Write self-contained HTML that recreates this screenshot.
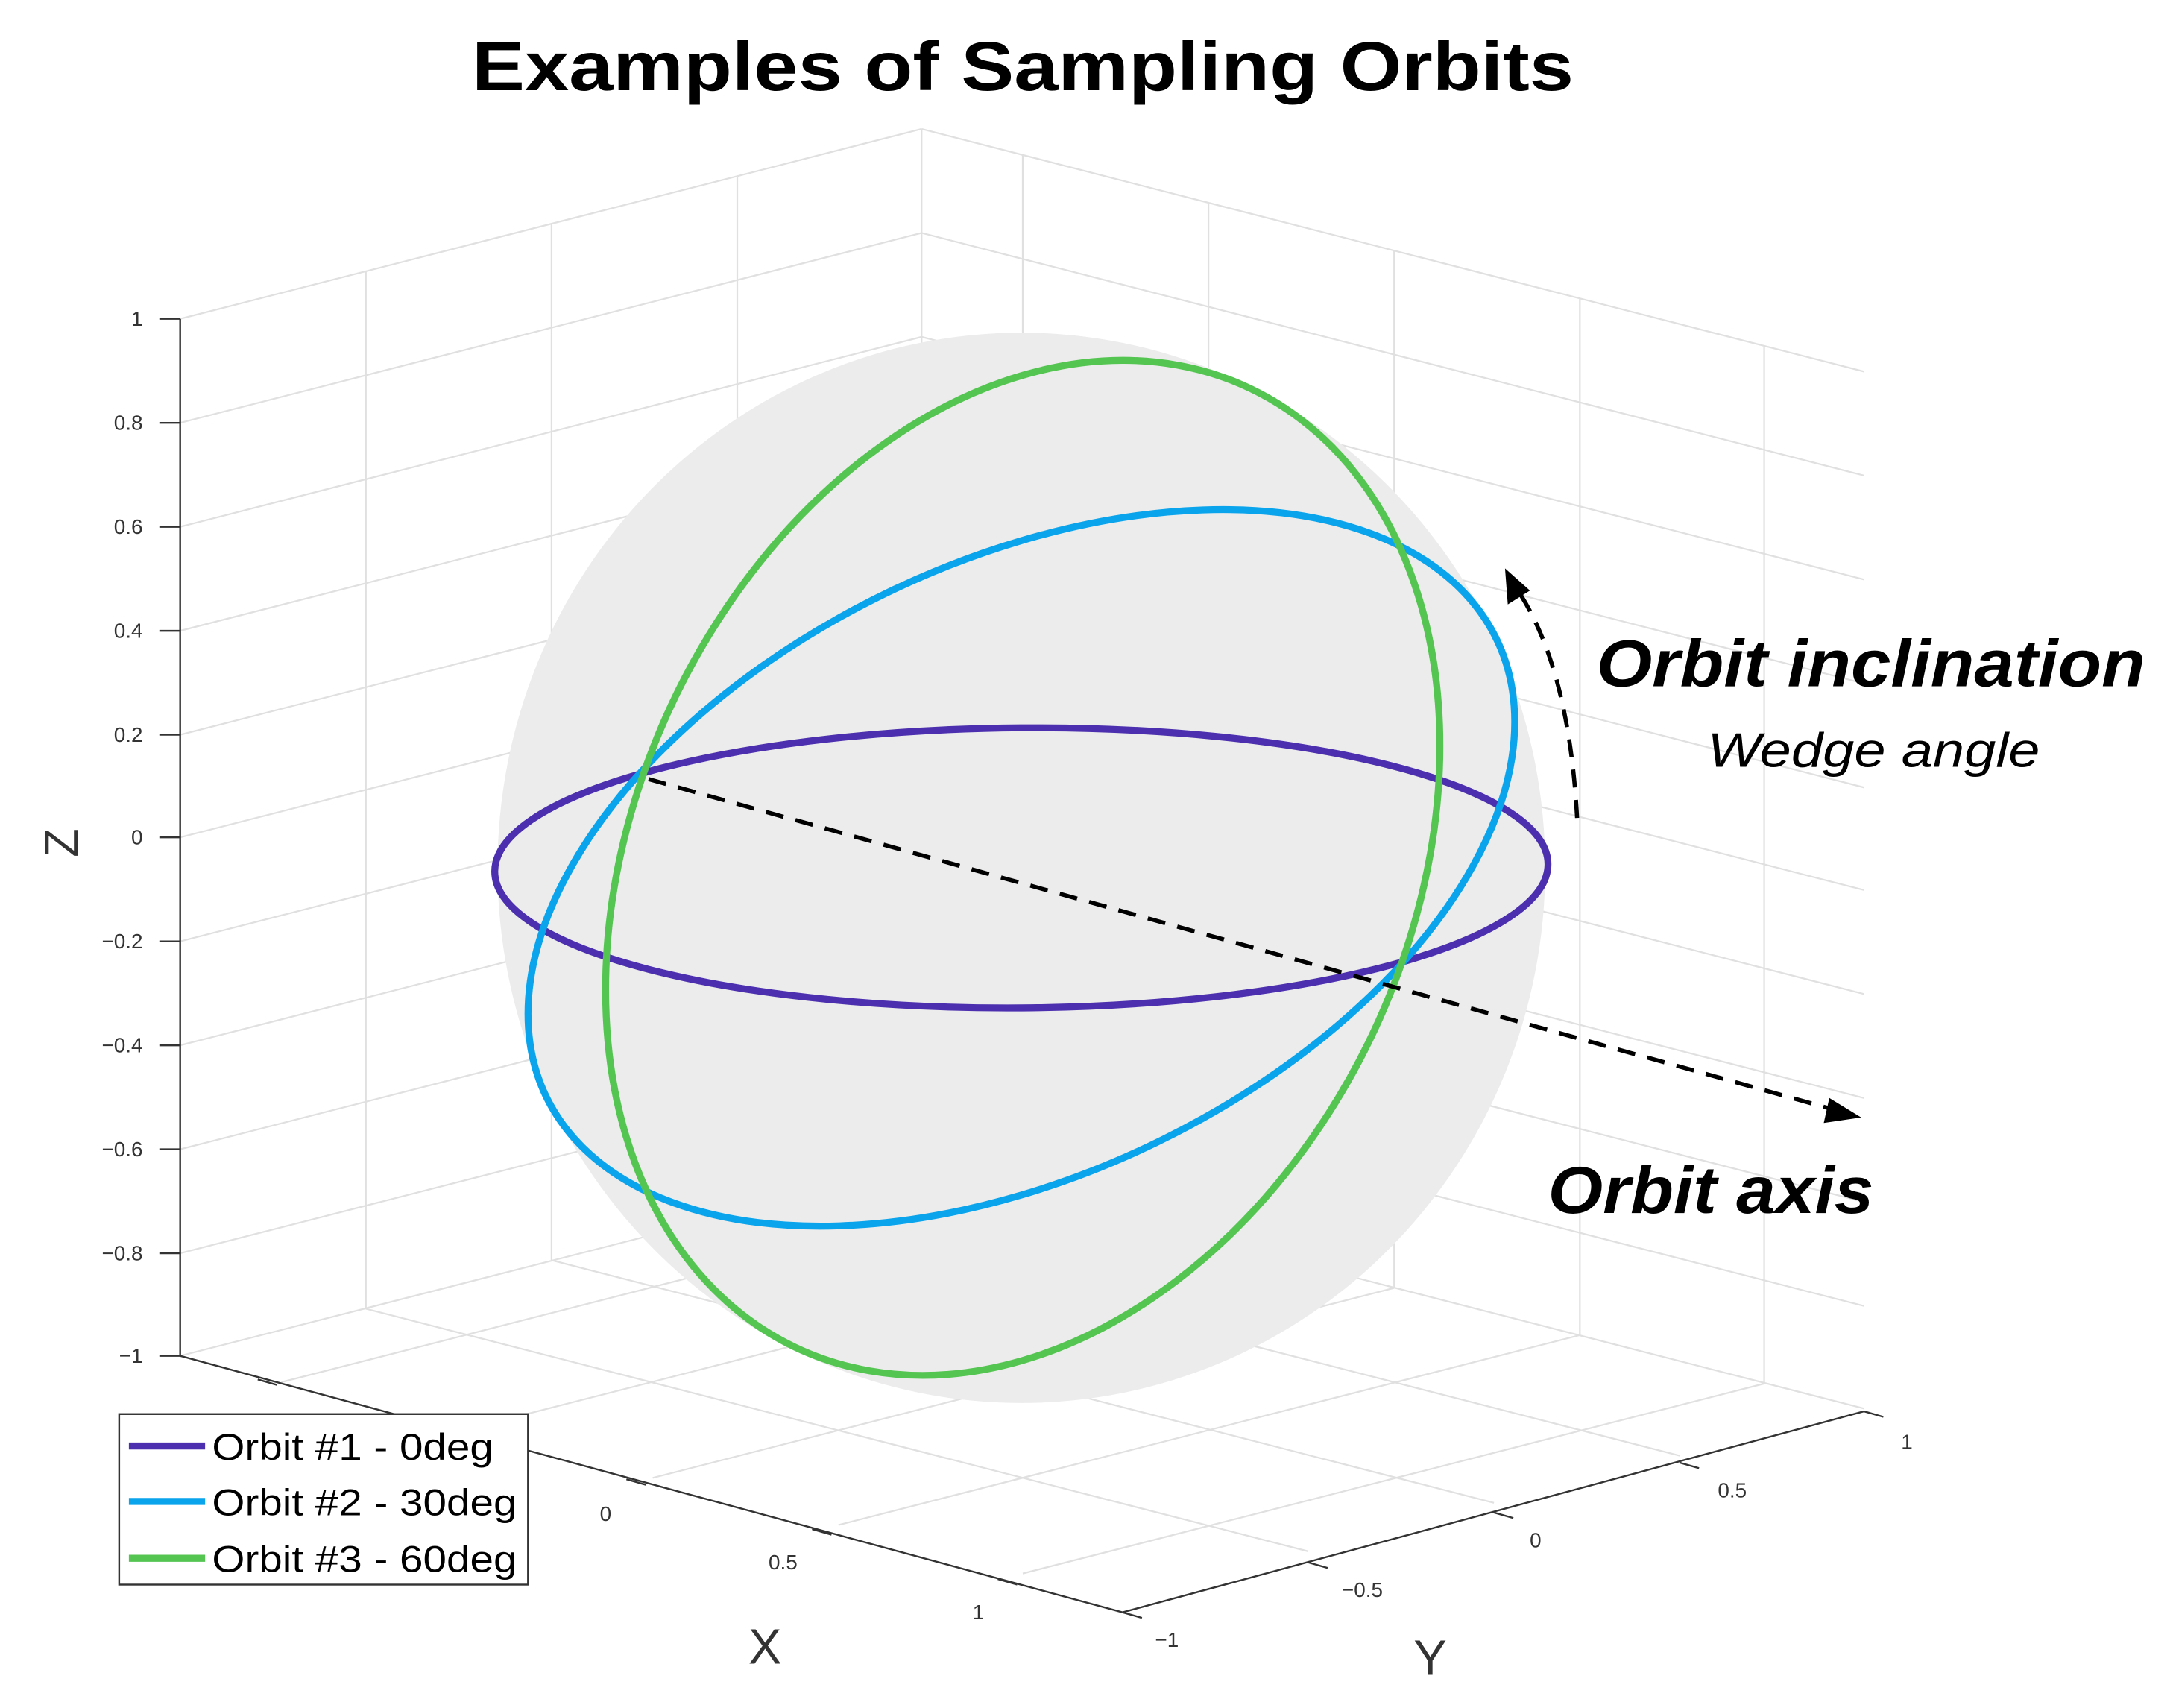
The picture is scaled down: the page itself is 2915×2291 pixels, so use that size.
<!DOCTYPE html>
<html><head><meta charset="utf-8"><style>html,body{margin:0;padding:0;background:#fff}svg{display:block}</style></head>
<body>
<svg width="2915" height="2291" viewBox="0 0 1568 1232" preserveAspectRatio="none" xmlns="http://www.w3.org/2000/svg" font-family="Liberation Sans, sans-serif">
<rect width="1568" height="1232" fill="#fff"/>
<text x="738" y="65" font-size="50" font-weight="bold" text-anchor="middle" textLength="795" lengthAdjust="spacingAndGlyphs">Examples of Sampling Orbits</text>
<g stroke="#e0e0e0" stroke-width="1.2" fill="none">
<line x1="130" y1="230" x2="665" y2="93"/><line x1="130" y1="305" x2="665" y2="168"/><line x1="130" y1="380" x2="665" y2="243"/><line x1="130" y1="455" x2="665" y2="318"/><line x1="130" y1="530" x2="665" y2="393"/><line x1="130" y1="604" x2="665" y2="467"/><line x1="130" y1="679" x2="665" y2="542"/><line x1="130" y1="754" x2="665" y2="617"/><line x1="130" y1="829" x2="665" y2="692"/><line x1="130" y1="904" x2="665" y2="767"/>
<line x1="264" y1="196" x2="264" y2="944"/><line x1="398" y1="161" x2="398" y2="909"/><line x1="532" y1="127" x2="532" y2="875"/><line x1="665" y1="93" x2="665" y2="841"/>
<line x1="665" y1="93" x2="1345" y2="268"/><line x1="665" y1="168" x2="1345" y2="343"/><line x1="665" y1="243" x2="1345" y2="418"/><line x1="665" y1="318" x2="1345" y2="493"/><line x1="665" y1="393" x2="1345" y2="568"/><line x1="665" y1="467" x2="1345" y2="642"/><line x1="665" y1="542" x2="1345" y2="717"/><line x1="665" y1="617" x2="1345" y2="792"/><line x1="665" y1="692" x2="1345" y2="867"/><line x1="665" y1="767" x2="1345" y2="942"/><line x1="665" y1="841" x2="1345" y2="1016"/>
<line x1="738" y1="112" x2="738" y2="860"/><line x1="872" y1="146" x2="872" y2="894"/><line x1="1006" y1="181" x2="1006" y2="929"/><line x1="1140" y1="215" x2="1140" y2="963"/><line x1="1273" y1="250" x2="1273" y2="998"/>
<line x1="665" y1="841" x2="130" y2="978"/>
<line x1="738" y1="860" x2="203" y2="997"/><line x1="872" y1="894" x2="337" y2="1031"/><line x1="1006" y1="929" x2="471" y2="1066"/><line x1="1140" y1="963" x2="605" y2="1100"/><line x1="1273" y1="998" x2="738" y2="1135"/>
<line x1="264" y1="944" x2="944" y2="1119"/><line x1="398" y1="909" x2="1078" y2="1084"/><line x1="532" y1="875" x2="1212" y2="1050"/>
</g>
<g stroke="#333" stroke-width="1.3" fill="none">
<line x1="130" y1="230" x2="130" y2="978"/>
<line x1="130" y1="978" x2="810" y2="1163"/>
<line x1="810" y1="1163" x2="1345" y2="1018"/>
<line x1="115" y1="230" x2="130" y2="230"/><line x1="115" y1="305" x2="130" y2="305"/><line x1="115" y1="380" x2="130" y2="380"/><line x1="115" y1="455" x2="130" y2="455"/><line x1="115" y1="530" x2="130" y2="530"/><line x1="115" y1="604" x2="130" y2="604"/><line x1="115" y1="679" x2="130" y2="679"/><line x1="115" y1="754" x2="130" y2="754"/><line x1="115" y1="829" x2="130" y2="829"/><line x1="115" y1="904" x2="130" y2="904"/><line x1="115" y1="978" x2="130" y2="978"/>
<line x1="452" y1="1067" x2="466" y2="1071"/><line x1="586" y1="1103" x2="600" y2="1107"/><line x1="720" y1="1139" x2="734" y2="1143"/><line x1="186" y1="995" x2="200" y2="999"/><line x1="320" y1="1031" x2="334" y2="1035"/>
<line x1="944" y1="1127" x2="958" y2="1131"/><line x1="1078" y1="1091" x2="1092" y2="1095"/><line x1="1212" y1="1055" x2="1226" y2="1059"/><line x1="1345" y1="1018" x2="1359" y2="1022"/><line x1="810" y1="1163" x2="824" y2="1167"/>
</g>
<g font-size="15" fill="#333" text-anchor="end">
<text x="103" y="235">1</text><text x="103" y="310">0.8</text><text x="103" y="385">0.6</text><text x="103" y="460">0.4</text><text x="103" y="535">0.2</text><text x="103" y="609">0</text><text x="103" y="684">−0.2</text><text x="103" y="759">−0.4</text><text x="103" y="834">−0.6</text><text x="103" y="909">−0.8</text><text x="103" y="983">−1</text>
</g>
<g font-size="15" fill="#333" text-anchor="middle">
<text x="437" y="1097">0</text><text x="565" y="1132">0.5</text><text x="706" y="1168">1</text>
<text x="842" y="1188">−1</text><text x="983" y="1152">−0.5</text><text x="1108" y="1116">0</text><text x="1250" y="1080">0.5</text><text x="1376" y="1045">1</text>
</g>
<text x="552" y="1200" font-size="36" fill="#333" text-anchor="middle">X</text>
<text x="1032" y="1208" font-size="36" fill="#333" text-anchor="middle">Y</text>
<text transform="translate(56,608) rotate(-90)" font-size="34" fill="#333" text-anchor="middle">Z</text>
<ellipse cx="737" cy="626" rx="378" ry="386" fill="#ececec"/>
<g fill="none" stroke-width="9.3">
<circle r="1" transform="matrix(380,-2.6,0,101,737,626)" stroke="#4b2fae" vector-effect="non-scaling-stroke"/>
<circle r="1" transform="matrix(356,-105.3,0,236,737,626)" stroke="#0aa4ec" vector-effect="non-scaling-stroke"/>
<circle r="1" transform="matrix(301,-88,0,355.3,738,626)" stroke="#55c552" vector-effect="non-scaling-stroke"/>
</g>
<line x1="468" y1="562" x2="1322" y2="800" stroke="#000" stroke-width="3" stroke-dasharray="13 9"/>
<polygon points="1343,806 1320,792 1316,810" fill="#000"/>
<path d="M1138,590 Q1132,480 1094,424" fill="none" stroke="#000" stroke-width="3" stroke-dasharray="13 9"/>
<polygon points="1086,410 1088,436 1104,426" fill="#000"/>
<g font-style="italic" fill="#000">
<text x="1152" y="495" font-size="48" font-weight="bold" textLength="396" lengthAdjust="spacingAndGlyphs">Orbit inclination</text>
<text x="1232" y="553" font-size="35" textLength="240" lengthAdjust="spacingAndGlyphs">Wedge angle</text>
<text x="1117" y="875" font-size="48" font-weight="bold" textLength="235" lengthAdjust="spacingAndGlyphs">Orbit axis</text>
</g>
<rect x="86" y="1020" width="295" height="123" fill="#fff" stroke="#333" stroke-width="1.3"/>
<g stroke-width="5">
<line x1="93" y1="1043" x2="148" y2="1043" stroke="#4b2fae"/>
<line x1="93" y1="1083" x2="148" y2="1083" stroke="#0aa4ec"/>
<line x1="93" y1="1124" x2="148" y2="1124" stroke="#55c552"/>
</g>
<g font-size="27" fill="#000">
<text x="153" y="1053" textLength="203" lengthAdjust="spacingAndGlyphs">Orbit #1 - 0deg</text>
<text x="153" y="1093" textLength="220" lengthAdjust="spacingAndGlyphs">Orbit #2 - 30deg</text>
<text x="153" y="1134" textLength="220" lengthAdjust="spacingAndGlyphs">Orbit #3 - 60deg</text>
</g>
</svg>
</body></html>
